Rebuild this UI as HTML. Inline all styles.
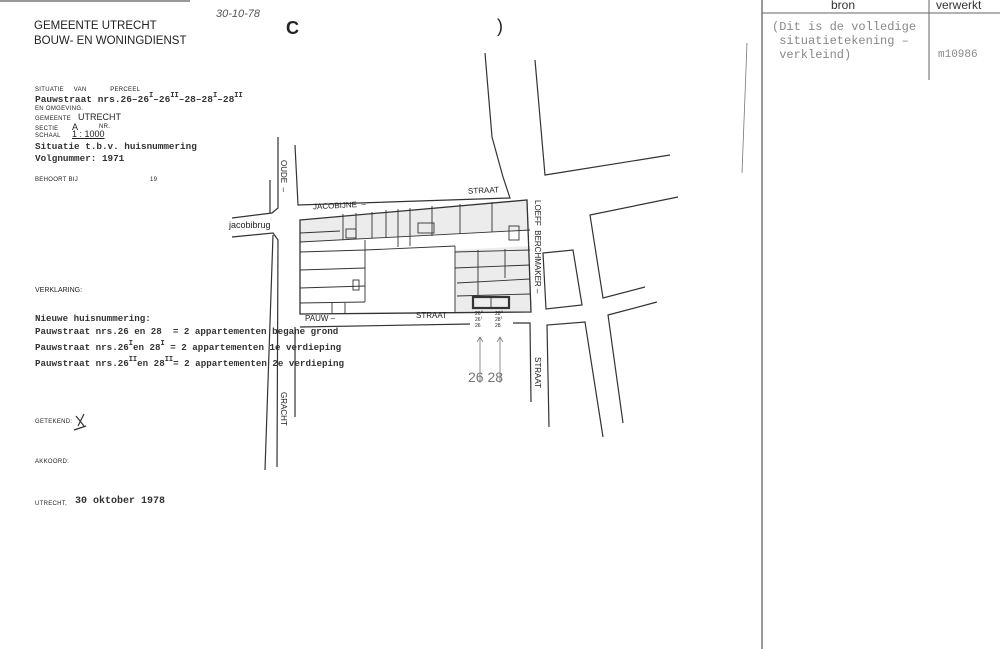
<!DOCTYPE html>
<html><head><meta charset="utf-8"><style>
html,body{margin:0;padding:0;background:#fff;}
body{width:1000px;height:649px;position:relative;overflow:hidden;font-family:"Liberation Sans",sans-serif;color:#222;}
.t{position:absolute;white-space:nowrap;}
.m{font-family:"Liberation Mono",monospace;font-weight:bold;color:#333;}
.s{font-size:6px;letter-spacing:0.3px;}
sup{font-size:7px;vertical-align:5px;line-height:0;}
</style></head><body>
<svg width="1000" height="649" style="position:absolute;left:0;top:0" fill="none" stroke="#333" stroke-width="1.2">
<line x1="0" y1="1" x2="190" y2="1" stroke="#999" stroke-width="2"/>
<line x1="762" y1="0" x2="762" y2="649" stroke="#555"/>
<line x1="929" y1="0" x2="929" y2="80" stroke="#666" stroke-width="1"/>
<line x1="762" y1="13" x2="1000" y2="13" stroke="#666" stroke-width="1"/>
<line x1="747" y1="43" x2="742" y2="173" stroke="#777" stroke-width="0.8"/>
<polyline points="278,137 278,208 272,213 232,218"/>
<polyline points="232,237 273,233 278,240 277,467"/>
<line x1="273" y1="235" x2="265" y2="470"/>
<line x1="270" y1="180" x2="270" y2="213"/>
<polyline points="295,145 298,205 510,198 503,177 492,137 485,53"/>
<line x1="300" y1="327" x2="470" y2="324"/>
<line x1="295" y1="327" x2="295" y2="417"/>
<polyline points="535,60 545,175 670,155"/>
<polyline points="678,197 590,215 603,298 645,287"/>
<polygon points="543,253 573,250 582,305 546,309"/>
<polyline points="657,302 608,315 623,423"/>
<polyline points="549,427 547,325 585,322 603,437"/>
<polyline points="513,323 530,323 531,402"/>
<g stroke-width="0.9">
<polygon points="300,220 300,242 530,230 527,200" fill="#ececec" stroke="none"/>
<polygon points="455,250 530,246 531,312 455,312" fill="#ececec" stroke="none"/>
<polygon points="300,220 527,200 531,312 300,314" stroke-width="1.3"/>
<line x1="300" y1="242" x2="530" y2="230"/>
<line x1="300" y1="252" x2="365" y2="250"/>
<line x1="300" y1="270" x2="365" y2="268"/>
<line x1="300" y1="288" x2="365" y2="286"/>
<line x1="300" y1="303" x2="365" y2="302"/>
<line x1="365" y1="240" x2="365" y2="302"/>
<line x1="300" y1="233" x2="340" y2="231"/>
<line x1="343" y1="214" x2="343" y2="240"/>
<line x1="356" y1="213" x2="356" y2="239"/>
<line x1="372" y1="212" x2="372" y2="238"/>
<line x1="386" y1="210" x2="386" y2="238"/>
<line x1="398" y1="209" x2="398" y2="247"/>
<line x1="410" y1="208" x2="410" y2="246"/>
<line x1="432" y1="206" x2="432" y2="236"/>
<line x1="460" y1="204" x2="460" y2="234"/>
<line x1="492" y1="202" x2="492" y2="232"/>
<line x1="365" y1="250" x2="455" y2="246"/>
<rect x="346" y="229" width="10" height="9"/>
<rect x="418" y="223" width="16" height="10"/>
<rect x="509" y="226" width="10" height="14"/>
<line x1="455" y1="246" x2="455" y2="312"/>
<line x1="455" y1="252" x2="530" y2="250"/>
<line x1="455" y1="268" x2="530" y2="265"/>
<line x1="457" y1="283" x2="530" y2="279"/>
<line x1="457" y1="296" x2="530" y2="294"/>
<line x1="478" y1="250" x2="478" y2="296"/>
<line x1="505" y1="249" x2="505" y2="278"/>
<rect x="353" y="280" width="6" height="10"/>
<line x1="345" y1="303" x2="345" y2="313"/>
<line x1="332" y1="303" x2="332" y2="313"/>
<rect x="473" y="297" width="36" height="11" stroke-width="2.2"/>
<line x1="491" y1="297" x2="491" y2="308"/>
</g>
<g stroke="#777" stroke-width="0.8">
<line x1="480" y1="383" x2="480" y2="337"/><polyline points="477,342 480,337 483,342"/>
<line x1="500" y1="383" x2="500" y2="337"/><polyline points="497,342 500,337 503,342"/>
</g>
<path d="M76,416 l8,10 M84,414 l-6,12 M74,430 l12,-4" stroke="#333"/>
</svg>

<div class="t" style="left:34px;top:20px;font-size:11.5px;">GEMEENTE UTRECHT</div>
<div class="t" style="left:34px;top:35px;font-size:11.5px;">BOUW- EN WONINGDIENST</div>
<div class="t" style="left:216px;top:8px;font-size:11px;color:#555;font-style:italic;">30-10-78</div>
<div class="t" style="left:286px;top:18px;font-size:18px;font-weight:bold;">C</div>
<div class="t" style="left:497px;top:16px;font-size:18px;">)</div>

<div class="t s" style="left:35px;top:87px;">SITUATIE &nbsp;&nbsp;&nbsp;&nbsp;VAN &nbsp;&nbsp;&nbsp;&nbsp;&nbsp;&nbsp;&nbsp;&nbsp;&nbsp;&nbsp;&nbsp;PERCEEL</div>
<div class="t m" style="left:35px;top:94px;font-size:9.5px;">Pauwstraat nrs.26–26<sup>I</sup>–26<sup>II</sup>–28–28<sup>I</sup>–28<sup>II</sup></div>
<div class="t s" style="left:35px;top:106px;">EN OMGEVING.</div>
<div class="t s" style="left:35px;top:116px;">GEMEENTE</div><div class="t" style="left:78px;top:112px;font-size:9px;">UTRECHT</div>
<div class="t s" style="left:35px;top:126px;">SECTIE</div><div class="t" style="left:72px;top:122px;font-size:9px;">A</div><div class="t s" style="left:99px;top:124px;">NR.</div>
<div class="t s" style="left:35px;top:133px;">SCHAAL</div><div class="t" style="left:72px;top:129px;font-size:9px;text-decoration:underline;">1 : 1000</div>
<div class="t m" style="left:35px;top:141px;font-size:9.3px;">Situatie t.b.v. huisnummering</div>
<div class="t m" style="left:35px;top:153px;font-size:9.3px;">Volgnummer: 1971</div>
<div class="t s" style="left:35px;top:177px;">BEHOORT BIJ</div><div class="t s" style="left:150px;top:177px;">19</div>
<div class="t" style="left:35px;top:287px;font-size:7px;">VERKLARING:</div>
<div class="t m" style="left:35px;top:313px;font-size:9.2px;">Nieuwe huisnummering:</div>
<div class="t m" style="left:35px;top:326px;font-size:9.2px;">Pauwstraat nrs.26 en 28 &nbsp;= 2 appartementen begane grond</div>
<div class="t m" style="left:35px;top:342px;font-size:9.2px;">Pauwstraat nrs.26<sup>I</sup>en 28<sup>I</sup> = 2 appartementen 1e verdieping</div>
<div class="t m" style="left:35px;top:358px;font-size:9.2px;">Pauwstraat nrs.26<sup>II</sup>en 28<sup>II</sup>= 2 appartementen 2e verdieping</div>
<div class="t s" style="left:35px;top:419px;">GETEKEND:</div>
<div class="t s" style="left:35px;top:459px;">AKKOORD:</div>
<div class="t s" style="left:35px;top:501px;">UTRECHT,</div>
<div class="t m" style="left:75px;top:496px;font-size:10px;">30 oktober 1978</div>

<div class="t" style="left:229px;top:220px;font-size:9px;">jacobibrug</div>
<div class="t" style="left:313px;top:201px;font-size:8px;transform:rotate(-3deg);">JACOBIJNE &nbsp;–</div>
<div class="t" style="left:468px;top:186px;font-size:8px;transform:rotate(-3deg);">STRAAT</div>
<div class="t" style="left:305px;top:314px;font-size:8px;">PAUW –</div>
<div class="t" style="left:416px;top:311px;font-size:8px;">STRAAT</div>
<div class="t" style="left:279px;top:160px;font-size:8px;writing-mode:vertical-rl;">OUDE &nbsp;–</div>
<div class="t" style="left:279px;top:392px;font-size:8px;writing-mode:vertical-rl;">GRACHT</div>
<div class="t" style="left:533px;top:200px;font-size:8px;writing-mode:vertical-rl;">LOEFF &nbsp;BERCHMAKER –</div>
<div class="t" style="left:533px;top:357px;font-size:8px;writing-mode:vertical-rl;">STRAAT</div>
<div class="t" style="left:475px;top:311px;font-size:5px;line-height:6px;">26<sup style="font-size:4px;vertical-align:2px">II</sup><br>26<sup style="font-size:4px;vertical-align:2px">I</sup><br>26</div>
<div class="t" style="left:495px;top:311px;font-size:5px;line-height:6px;">28<sup style="font-size:4px;vertical-align:2px">II</sup><br>28<sup style="font-size:4px;vertical-align:2px">I</sup><br>28</div>
<div class="t" style="left:468px;top:369px;font-size:14px;color:#777;">26 28</div>

<div class="t" style="left:831px;top:-2px;font-size:12px;color:#333;">bron</div>
<div class="t" style="left:936px;top:-2px;font-size:12px;color:#333;">verwerkt</div>
<div class="t m" style="left:772px;top:20px;font-size:12px;color:#888;font-weight:normal;line-height:14px;">(Dit is de volledige<br>&nbsp;situatietekening –<br>&nbsp;verkleind)</div>
<div class="t m" style="left:938px;top:49px;font-size:11px;color:#888;font-weight:normal;">m10986</div>
</body></html>
